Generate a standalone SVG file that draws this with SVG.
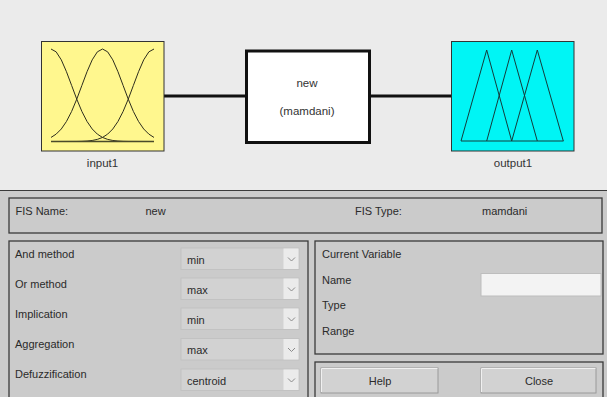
<svg xmlns="http://www.w3.org/2000/svg" width="607" height="397" viewBox="0 0 607 397">
<style>
text{font-family:"Liberation Sans",Arial,sans-serif;fill:#2a2a2a;font-size:11px}
.lbl{font-size:11.5px;fill:#333}
.ctr{text-anchor:middle}
.panel{fill:none;stroke:#3a3a3a;stroke-width:1.3}
.dd{fill:#d2d2d2;stroke:#c2c2c2;stroke-width:1}
.ddarrow{fill:#ebebeb}
.chev{fill:none;stroke:#8a8a8a;stroke-width:1}
.btn{fill:#d2d2d2;stroke:#9a9a9a;stroke-width:1}
.btnhi{fill:none;stroke:#f0f0f0;stroke-width:1}
.mf{fill:none;stroke:#2e2e1e;stroke-width:1;stroke-linejoin:round}
.tri{fill:none;stroke:#143c3c;stroke-width:1;stroke-linejoin:miter}
.conn{stroke:#111;stroke-width:3}
</style>
<rect x="0" y="0" width="607" height="190" fill="#ebebeb"/>
<rect x="0" y="190" width="607" height="207" fill="#cbcbcb"/>
<line x1="0" y1="190.5" x2="607" y2="190.5" stroke="#3a3a3a" stroke-width="1.2"/>

<g id="connectors">
<line class="conn" x1="164" y1="96" x2="246" y2="96"/>
<line class="conn" x1="370" y1="96" x2="451" y2="96"/>
</g>

<g id="input1">
<rect x="41.5" y="41.5" width="122.5" height="109.5" fill="#fff78e" stroke="#333" stroke-width="1"/>
<polyline class="mf" points="51,49 56.15,51.85 61.3,59.87 66.45,71.68 71.6,85.4 76.75,99.15 81.9,111.47 87.05,121.49 92.2,128.98 97.35,134.14 102.5,137.44 107.65,139.39 112.8,140.47 117.95,141.03 123.1,141.3 128.25,141.42 154,141.5"/>
<polyline class="mf" points="51,137.44 56.15,134.14 61.3,128.98 66.45,121.49 71.6,111.47 76.75,99.15 81.9,85.4 87.05,71.68 92.2,59.87 97.35,51.85 102.5,49 107.65,51.85 112.8,59.87 117.95,71.68 123.1,85.4 128.25,99.15 133.4,111.47 138.55,121.49 143.7,128.98 148.85,134.14 154,137.44"/>
<polyline class="mf" points="51,141.5 76.75,141.42 81.9,141.3 87.05,141.03 92.2,140.47 97.35,139.39 102.5,137.44 107.65,134.14 112.8,128.98 117.95,121.49 123.1,111.47 128.25,99.15 133.4,85.4 138.55,71.68 143.7,59.87 148.85,51.85 154,49"/>
<line x1="51" y1="141.5" x2="154" y2="141.5" stroke="#4a4a2a" stroke-width="1.6"/>
<text class="lbl ctr" x="102.5" y="167">input1</text>
</g>

<g id="system">
<rect x="246.5" y="51" width="123" height="91.5" fill="#ffffff" stroke="#111" stroke-width="3"/>
<text class="lbl ctr" x="307" y="87" fill="#444">new</text>
<text class="lbl ctr" x="307" y="115" fill="#444">(mamdani)</text>
</g>

<g id="output1">
<rect x="451.5" y="41.5" width="122.5" height="109.5" fill="#00f5f5" stroke="#333" stroke-width="1"/>
<line x1="461" y1="141" x2="563.5" y2="141" stroke="#143c3c" stroke-width="1"/>
<polyline class="tri" points="461,141 486.7,50 511.7,141"/>
<polyline class="tri" points="486.7,141 511.7,50 537.3,141"/>
<polyline class="tri" points="511.7,141 537.3,50 563.3,141"/>
<text class="lbl ctr" x="513" y="167">output1</text>
</g>

<g id="fis-info">
<rect class="panel" x="9" y="198" width="593" height="35"/>
<text x="15.5" y="215">FIS Name:</text>
<text x="145.5" y="215">new</text>
<text x="355" y="215">FIS Type:</text>
<text x="482" y="215">mamdani</text>
</g>

<g id="methods">
<rect class="panel" x="9" y="241" width="299" height="162"/>
<text x="15" y="258">And method</text>
<text x="15" y="288">Or method</text>
<text x="15" y="318">Implication</text>
<text x="15" y="348">Aggregation</text>
<text x="15" y="378">Defuzzification</text>
<g id="dd-and">
<rect class="dd" x="181" y="248" width="118" height="21.5"/>
<rect class="ddarrow" x="283.5" y="248.5" width="15" height="20.5"/>
<path class="chev" d="M288,257.5 L291.5,261 L295,257.5"/>
<text x="187" y="263.5">min</text>
</g>
<g id="dd-or">
<rect class="dd" x="181" y="278" width="118" height="21.5"/>
<rect class="ddarrow" x="283.5" y="278.5" width="15" height="20.5"/>
<path class="chev" d="M288,287.5 L291.5,291 L295,287.5"/>
<text x="187" y="293.5">max</text>
</g>
<g id="dd-imp">
<rect class="dd" x="181" y="308" width="118" height="21.5"/>
<rect class="ddarrow" x="283.5" y="308.5" width="15" height="20.5"/>
<path class="chev" d="M288,317.5 L291.5,321 L295,317.5"/>
<text x="187" y="323.5">min</text>
</g>
<g id="dd-agg">
<rect class="dd" x="181" y="338.5" width="118" height="21.5"/>
<rect class="ddarrow" x="283.5" y="339" width="15" height="20.5"/>
<path class="chev" d="M288,348 L291.5,351.5 L295,348"/>
<text x="187" y="354">max</text>
</g>
<g id="dd-def">
<rect class="dd" x="181" y="369" width="118" height="21.5"/>
<rect class="ddarrow" x="283.5" y="369.5" width="15" height="20.5"/>
<path class="chev" d="M288,378.5 L291.5,382 L295,378.5"/>
<text x="187" y="384.5">centroid</text>
</g>
</g>

<g id="current-variable">
<rect class="panel" x="315" y="241" width="288" height="113"/>
<text x="322" y="258">Current Variable</text>
<text x="322" y="284">Name</text>
<text x="322" y="309">Type</text>
<text x="322" y="335">Range</text>
<rect x="481" y="273.5" width="120" height="22.5" fill="#f3f3f3" stroke="#bdbdbd" stroke-width="1"/>
</g>

<g id="buttons">
<rect class="panel" x="315" y="362" width="288" height="40"/>
<g id="help">
<rect class="btn" x="321" y="368" width="117" height="25"/>
<path class="btnhi" d="M321.5,392 V368.5 H437.5"/>
<text class="ctr" x="380" y="385">Help</text>
</g>
<g id="close">
<rect class="btn" x="481" y="368" width="115" height="25"/>
<path class="btnhi" d="M481.5,392 V368.5 H595.5"/>
<text class="ctr" x="539" y="385">Close</text>
</g>
</g>
</svg>
